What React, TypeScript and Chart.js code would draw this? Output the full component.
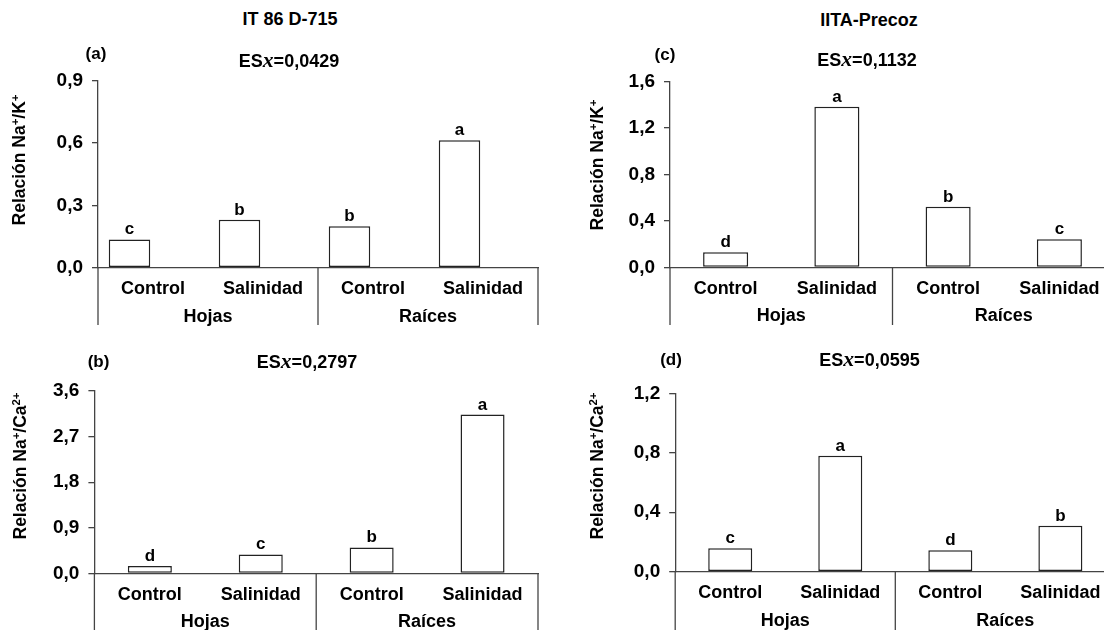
import React, { useEffect, useRef } from "react";
import { Chart, registerables } from "chart.js";

Chart.register(...registerables);

// ---------- data ----------
const categories = ["Control", "Salinidad", "Control", "Salinidad"];
const groups = ["Hojas", "Raíces"];

const naK_IT86 = [0.136, 0.231, 0.199, 0.613];
const naK_IT86_letters = ["c", "b", "b", "a"];
const naK_IT86_ticks = [0, 0.3, 0.6, 0.9];
const naK_IT86_empty = [null, null, null, null];

const naCa_IT86 = [0.144, 0.373, 0.51, 3.135];
const naCa_IT86_letters = ["d", "c", "b", "a"];
const naCa_IT86_ticks = [0, 0.9, 1.8, 2.7, 3.6];

const naK_IITA = [0.13, 1.385, 0.523, 0.242];
const naK_IITA_letters = ["d", "a", "b", "c"];
const naK_IITA_ticks = [0, 0.4, 0.8, 1.2, 1.6];

const naCa_IITA = [0.157, 0.78, 0.144, 0.309];
const naCa_IITA_letters = ["c", "a", "d", "b"];
const naCa_IITA_ticks = [0, 0.4, 0.8, 1.2];

const FONT = '"Liberation Sans", Arial, Helvetica, sans-serif';
const AXIS = "#444";

const decorPlugin = {
  id: "decor",
  afterDraw(chart: any, _args: any, opts: any) {
    const { ctx, chartArea } = chart;
    const x = chart.scales.x;
    const meta = chart.getDatasetMeta(0);
    ctx.save();
    // significance letters
    ctx.font = `bold 17px ${FONT}`;
    ctx.fillStyle = "#000";
    ctx.textAlign = "center";
    ctx.textBaseline = "alphabetic";
    meta.data.forEach((bar: any, i: number) => {
      ctx.fillText(opts.letters[i], bar.x, bar.y - 5);
    });
    // group separators
    const mid = (x.getPixelForValue(1) + x.getPixelForValue(2)) / 2;
    const edges = [chartArea.left, mid, chartArea.right];
    ctx.strokeStyle = AXIS;
    ctx.lineWidth = 1.3;
    edges.forEach((e) => {
      ctx.beginPath();
      ctx.moveTo(e, chartArea.bottom);
      ctx.lineTo(e, chartArea.bottom + opts.drop);
      ctx.stroke();
    });
    // group labels
    ctx.font = `bold 18px ${FONT}`;
    ctx.textBaseline = "middle";
    groups.forEach((g, gi) => {
      ctx.fillText(g, (edges[gi] + edges[gi + 1]) / 2, chartArea.bottom + 49);
    });
    ctx.restore();
  },
};

type PanelProps = {
  left: number;
  top: number;
  width: number;
  height: number;
  yWidth: number;
  padTop: number;
  padRight: number;
  xHeight: number;
  drop: number;
  values: number[];
  letters: string[];
  ticks: number[];
  barPct: number;
  catPct?: number;
  extra?: (number | null)[];
};

function Panel(p: PanelProps) {
  const ref = useRef<HTMLCanvasElement>(null);
  useEffect(() => {
    if (!ref.current) return;
    const datasets: any[] = [
      {
        data: p.values,
        backgroundColor: "#ffffff",
        borderColor: "#222",
        borderWidth: 1.5,
        borderSkipped: false,
        barPercentage: p.barPct,
        categoryPercentage: p.catPct ?? 1,
      },
    ];
    if (p.extra) {
      datasets.push({
        data: p.extra,
        backgroundColor: "#ffffff",
        borderColor: "#222",
        borderWidth: 1.5,
        barPercentage: p.barPct,
        categoryPercentage: p.catPct ?? 1,
      });
    }
    const chart = new Chart(ref.current, {
      type: "bar",
      data: { labels: categories, datasets },
      plugins: [decorPlugin],
      options: {
        responsive: false,
        animation: false,
        devicePixelRatio: 1,
        layout: { padding: { top: p.padTop, right: p.padRight, left: 0, bottom: 0 } },
        plugins: {
          legend: { display: false },
          tooltip: { enabled: false },
          title: { display: false },
          decor: { letters: p.letters, drop: p.drop },
        } as any,
        scales: {
          x: {
            type: "category",
            offset: true,
            grid: { display: false, drawTicks: false },
            border: { display: true, color: AXIS, width: 1.3 },
            ticks: {
              color: "#000",
              font: { family: FONT, size: 18, weight: "bold" },
              padding: 11,
              maxRotation: 0,
              autoSkip: false,
            },
            afterFit: (s: any) => {
              s.height = p.xHeight;
            },
          },
          y: {
            min: 0,
            max: p.ticks[p.ticks.length - 1],
            grid: { drawOnChartArea: false, drawTicks: true, tickLength: 6, color: AXIS, lineWidth: 1.3 },
            border: { display: true, color: AXIS, width: 1.3 },
            ticks: {
              color: "#000",
              font: { family: FONT, size: 19, weight: "bold" },
              padding: 9,
              callback: (v: any) => Number(v).toFixed(1).replace(".", ","),
            },
            afterBuildTicks: (s: any) => {
              s.ticks = p.ticks.map((v) => ({ value: v }));
            },
            afterFit: (s: any) => {
              s.width = p.yWidth;
            },
          },
        },
      } as any,
    });
    return () => chart.destroy();
  }, []);
  return (
    <canvas
      ref={ref}
      width={p.width}
      height={p.height}
      style={{ position: "absolute", left: p.left, top: p.top, width: p.width, height: p.height }}
    />
  );
}

const txt: React.CSSProperties = {
  position: "absolute",
  transform: "translate(-50%, -50%)",
  whiteSpace: "nowrap",
  fontFamily: FONT,
  fontWeight: "bold",
  fontSize: 17,
  color: "#000",
  lineHeight: 1,
};

const supS: React.CSSProperties = { fontSize: "0.65em", lineHeight: 0, verticalAlign: "0.55em" };

function Label({ x, y, children, size }: { x: number; y: number; children: any; size?: number }) {
  return <div style={{ ...txt, left: x, top: y, fontSize: size ?? 17 }}>{children}</div>;
}

function YTitle({ x, y, ca }: { x: number; y: number; ca: boolean }) {
  return (
    <div style={{ ...txt, fontSize: 17.5, left: x, top: y, transform: "translate(-50%, -50%) rotate(-90deg)" }}>
      {ca ? (
        <>
          Relación Na<span style={supS}>+</span>/Ca<span style={supS}>2+</span>
        </>
      ) : (
        <>
          Relación Na<span style={supS}>+</span>/K<span style={supS}>+</span>
        </>
      )}
    </div>
  );
}

function ES({ x, y, v }: { x: number; y: number; v: string }) {
  return (
    <Label x={x} y={y} size={18}>
      ES
      <span style={{ fontFamily: '"Liberation Serif", "DejaVu Serif", serif', fontStyle: "italic", fontSize: "1.2em" }}>x</span>
      ={v}
    </Label>
  );
}

export default function App() {
  return (
    <div
      style={{
        position: "absolute",
        left: 0,
        top: 0,
        width: 1104,
        height: 630,
        overflow: "hidden",
        background: "#fff",
      }}
    >
      <Panel
        left={0}
        top={60}
        width={552}
        height={270}
        yWidth={98}
        padTop={19.3}
        padRight={14}
        xHeight={62.3}
        drop={57.3}
        values={naK_IT86}
        extra={naK_IT86_empty}
        letters={naK_IT86_letters}
        ticks={naK_IT86_ticks}
        barPct={0.883}
        catPct={0.8545}
      />
      <Panel
        left={0}
        top={370}
        width={552}
        height={260}
        yWidth={94.4}
        padTop={21}
        padRight={14}
        xHeight={56.7}
        drop={60}
        values={naCa_IT86}
        letters={naCa_IT86_letters}
        ticks={naCa_IT86_ticks}
        barPct={0.397}
      />
      <Panel
        left={552}
        top={60}
        width={580}
        height={270}
        yWidth={118}
        padTop={21.7}
        padRight={17}
        xHeight={62.7}
        drop={57.7}
        values={naK_IITA}
        letters={naK_IITA_letters}
        ticks={naK_IITA_ticks}
        barPct={0.405}
      />
      <Panel
        left={552}
        top={370}
        width={580}
        height={260}
        yWidth={123.2}
        padTop={23.3}
        padRight={16.6}
        xHeight={58.3}
        drop={60}
        values={naCa_IITA}
        letters={naCa_IITA_letters}
        ticks={naCa_IITA_ticks}
        barPct={0.4}
      />

      <Label x={290} y={19} size={18}>IT 86 D-715</Label>
      <Label x={869} y={20} size={18}>IITA-Precoz</Label>

      <Label x={96} y={53}>(a)</Label>
      <ES x={289} y={61} v="0,0429" />
      <Label x={665} y={54}>(c)</Label>
      <ES x={867} y={60} v="0,1132" />
      <Label x={98.5} y={361}>(b)</Label>
      <ES x={307} y={362} v="0,2797" />
      <Label x={671} y={359}>(d)</Label>
      <ES x={869.5} y={360} v="0,0595" />

      <YTitle x={20} y={160} ca={false} />
      <YTitle x={20.5} y={466} ca={true} />
      <YTitle x={598} y={165} ca={false} />
      <YTitle x={598} y={466} ca={true} />
    </div>
  );
}
